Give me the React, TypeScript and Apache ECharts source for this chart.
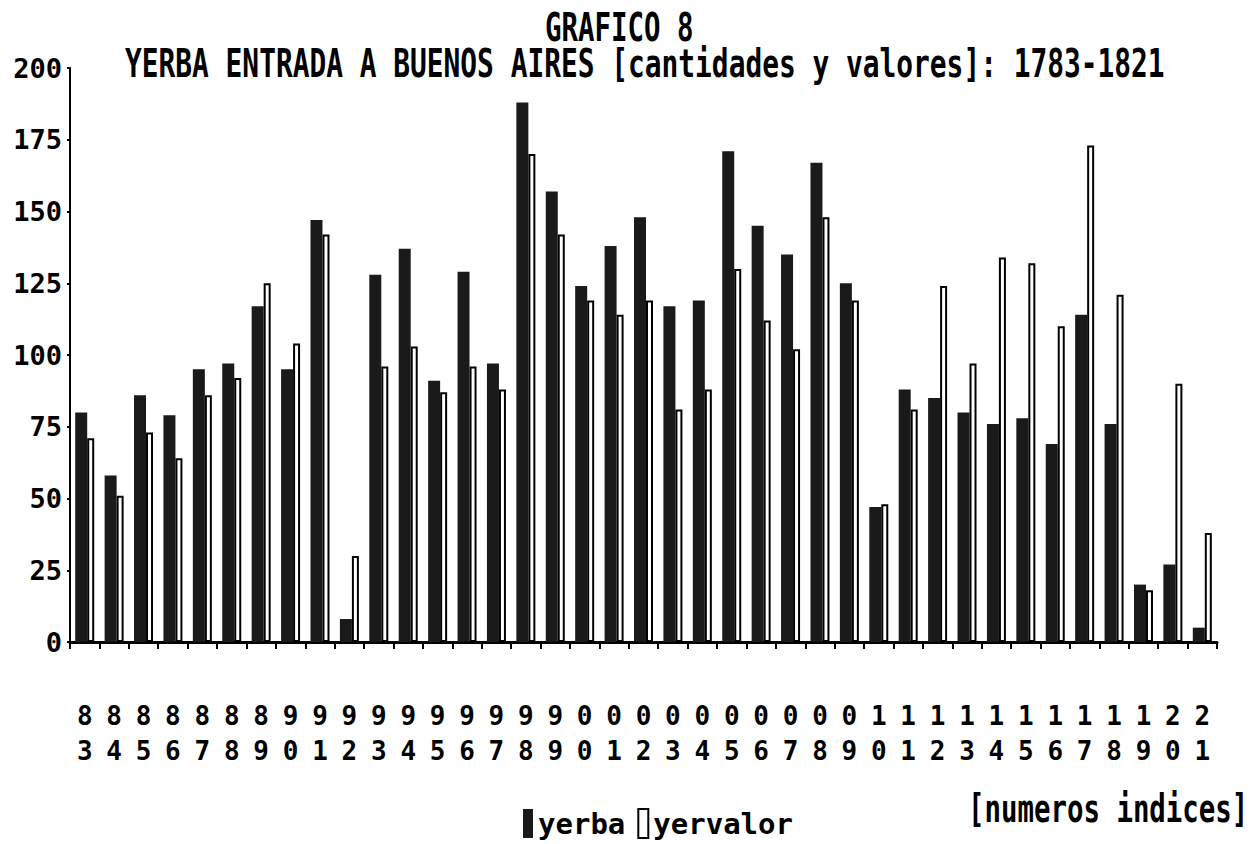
import React, { useEffect, useRef } from 'react';
import * as echarts from 'echarts';

const years = [
  '1783', '1784', '1785', '1786', '1787', '1788', '1789', '1790', '1791', '1792',
  '1793', '1794', '1795', '1796', '1797', '1798', '1799', '1800', '1801', '1802',
  '1803', '1804', '1805', '1806', '1807', '1808', '1809', '1810', '1811', '1812',
  '1813', '1814', '1815', '1816', '1817', '1818', '1819', '1820', '1821',
];

const yerba = [
  80, 58, 86, 79, 95, 97, 117, 95, 147, 8,
  128, 137, 91, 129, 97, 188, 157, 124, 138, 148,
  117, 119, 171, 145, 135, 167, 125, 47, 88, 85,
  80, 76, 78, 69, 114, 76, 20, 27, 5,
];

const yervalor = [
  71, 51, 73, 64, 86, 92, 125, 104, 142, 30,
  96, 103, 87, 96, 88, 170, 142, 119, 114, 119,
  81, 88, 130, 112, 102, 148, 119, 48, 81, 124,
  97, 134, 132, 110, 173, 121, 18, 90, 38,
];

const yTicks = { min: 0, max: 200, interval: 25 };

const titleTop = 'GRAFICO 8';
const titleMain = 'YERBA ENTRADA A BUENOS AIRES [cantidades y valores]: 1783-1821';
const unitNote = '[numeros indices]';

const FONT = '"DejaVu Sans Mono", monospace';

export default function App() {
  const ref = useRef<HTMLDivElement>(null);

  useEffect(() => {
    const chart = echarts.init(ref.current as HTMLDivElement, null, { renderer: 'svg' });
    const textEl = (text: string, x: number, y: number, size: number, sy: number) => ({
      type: 'text',
      x,
      y,
      scaleY: sy,
      silent: true,
      style: {
        text,
        font: `bold ${size}px ${FONT}`,
        fill: '#000',
        align: 'left',
        verticalAlign: 'middle',
        textAlign: 'left',
        textVerticalAlign: 'middle',
      },
    });
    chart.setOption({
      animation: false,
      backgroundColor: '#fff',
      grid: { left: 70, right: 36, top: 68, bottom: 202, containLabel: false },
      graphic: [
        textEl(titleTop, 545, 28, 27.4, 1.4),
        textEl(titleMain, 125, 64, 27.86, 1.38),
        textEl(unitNote, 968, 808, 27.4, 1.45),
      ],
      legend: {
        data: ['yerba', 'yervalor'],
        left: 523,
        top: 808,
        icon: 'rect',
        itemWidth: 10,
        itemHeight: 29,
        itemGap: 12,
        padding: 0,
        textStyle: {
          fontFamily: FONT,
          fontWeight: 'bold',
          fontSize: 29,
          color: '#000',
        },
      },
      xAxis: {
        type: 'category',
        data: years,
        boundaryGap: true,
        axisLine: { show: true, lineStyle: { color: '#000', width: 3 } },
        axisTick: { show: true, alignWithLabel: false, length: 7, interval: 0, lineStyle: { color: '#000', width: 2 } },
        axisLabel: {
          interval: 0,
          margin: 56,
          fontFamily: FONT,
          fontWeight: 'bold',
          fontSize: 26,
          lineHeight: 35,
          color: '#000',
          formatter: (v: string) => `${v.charAt(2)}\n${v.charAt(3)}`,
        },
        splitLine: { show: false },
      },
      yAxis: {
        type: 'value',
        min: yTicks.min,
        max: yTicks.max,
        interval: yTicks.interval,
        axisLine: { show: true, lineStyle: { color: '#000', width: 2 } },
        axisTick: { show: true, length: 3, lineStyle: { color: '#000', width: 2 } },
        axisLabel: {
          margin: 8,
          fontFamily: FONT,
          fontWeight: 'bold',
          fontSize: 27,
          color: '#000',
        },
        splitLine: { show: false },
      },
      series: [
        {
          name: 'yerba',
          type: 'bar',
          data: yerba,
          barWidth: 12,
          barGap: '0%',
          itemStyle: { color: '#1a1a1a' },
        },
        {
          name: 'yervalor',
          type: 'bar',
          data: yervalor,
          barWidth: 7,
          barGap: '0%',
          itemStyle: { color: '#fff', borderColor: '#000', borderWidth: 2 },
        },
      ],
    });
    return () => chart.dispose();
  }, []);

  return (
    <div
      ref={ref}
      style={{ position: 'absolute', left: 0, top: 0, width: 1253, height: 844, background: '#fff' }}
    />
  );
}
